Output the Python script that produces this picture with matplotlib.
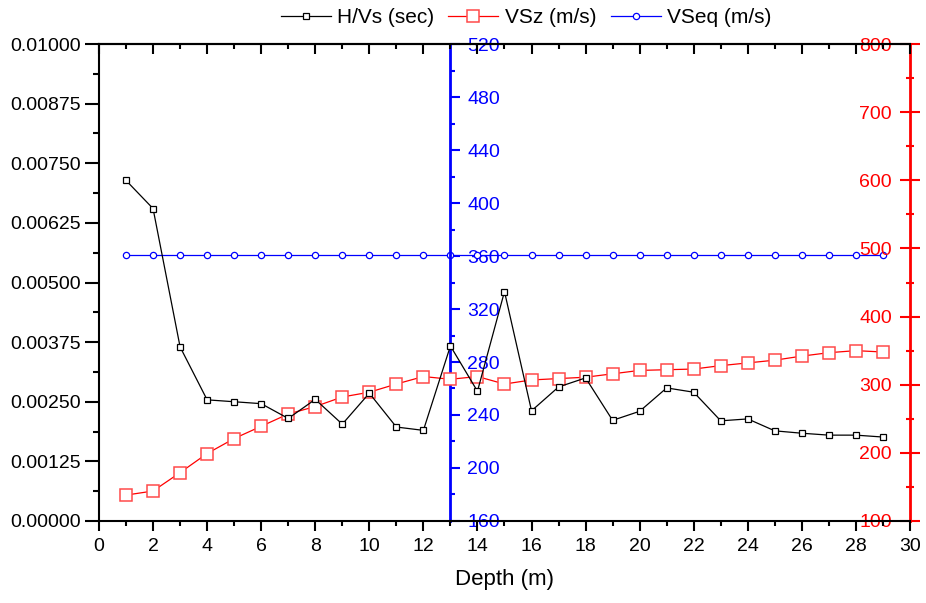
import matplotlib
matplotlib.use('Agg')
import matplotlib.pyplot as plt
from matplotlib.ticker import MultipleLocator, FormatStrFormatter

plt.rcParams['font.family'] = ['Liberation Sans', 'DejaVu Sans']

depth = list(range(1, 30))
hvs = [0.00714, 0.00655, 0.00365, 0.00254, 0.00250, 0.00246, 0.00215, 0.00255,
       0.00203, 0.00268, 0.00197, 0.00190, 0.00367, 0.00272, 0.00481, 0.00231,
       0.00281, 0.00300, 0.00211, 0.00230, 0.00279, 0.00270, 0.00210, 0.00214,
       0.00189, 0.00184, 0.00180, 0.00180, 0.00176]
vsz = [138, 144, 171, 199, 221, 239, 257, 268, 282, 289, 301, 312, 308, 312,
       301, 307, 309, 311, 316, 321, 322, 323, 328, 332, 336, 342, 347, 350, 348]
vseq = [361] * 29

fig = plt.figure(figsize=(9.26, 6.03), dpi=100)
ax = fig.add_axes([0.1069, 0.136, 0.8758, 0.791])
ax_b = ax.twinx()
ax_r = ax.twinx()

# main axis on top so the black series sits over the red one
ax.set_zorder(3)
ax.patch.set_visible(False)

l1, = ax.plot(depth, hvs, color='black', lw=0.9, marker='s', ms=4.5,
              mfc='white', mec='black', mew=0.9, label='H/Vs (sec)')
l2, = ax_r.plot(depth, vsz, color='red', lw=0.9, marker='s', ms=8,
                mfc='white', mec='#ff4a4a', mew=1.1, label='VSz (m/s)')
l3, = ax_b.plot(depth, vseq, color='blue', lw=0.9, marker='o', ms=4.5,
                mfc='white', mec='blue', mew=0.9, label='VSeq (m/s)')

# left / x axes
ax.set_xlim(0, 30)
ax.set_ylim(0, 0.01)
ax.xaxis.set_major_locator(MultipleLocator(2))
ax.xaxis.set_minor_locator(MultipleLocator(1))
ax.yaxis.set_major_locator(MultipleLocator(0.00125))
ax.yaxis.set_minor_locator(MultipleLocator(0.000625))
ax.yaxis.set_major_formatter(FormatStrFormatter('%.5f'))
ax.spines['right'].set_visible(False)
for s in ['left', 'bottom', 'top']:
    ax.spines[s].set_linewidth(1.5)
ax.tick_params(axis='both', which='both', labelsize=14, width=1.5, direction='out')
ax.tick_params(axis='y', which='major', length=10, pad=3)
ax.tick_params(axis='y', which='minor', length=4)
ax.tick_params(axis='x', which='major', length=7, pad=5)
ax.tick_params(axis='x', which='minor', length=3.5)
ax.set_xlabel('Depth (m)', fontsize=16, labelpad=10)

# ticks on top point inward
top = ax.secondary_xaxis('top')
top.xaxis.set_major_locator(MultipleLocator(2))
top.xaxis.set_minor_locator(MultipleLocator(1))
top.tick_params(which='both', direction='in', width=1.5, labeltop=False)
top.tick_params(which='major', length=7)
top.tick_params(which='minor', length=3.5)
top.spines['top'].set_linewidth(1.5)

# blue axis at depth = 13
ax_b.set_ylim(160, 520)
ax_b.yaxis.set_major_locator(MultipleLocator(40))
ax_b.yaxis.set_minor_locator(MultipleLocator(20))
for s in ['left', 'top', 'bottom']:
    ax_b.spines[s].set_visible(False)
ax_b.spines['right'].set_position(('data', 13))
ax_b.spines['right'].set_color('blue')
ax_b.spines['right'].set_linewidth(2)
ax_b.tick_params(axis='y', which='major', direction='out', length=7, width=1.5,
                 pad=5, colors='blue', labelcolor='blue', labelsize=14)
ax_b.tick_params(axis='y', which='minor', direction='out', length=3.5,
                 width=1.5, colors='blue')

# red axis at right edge, labels inside
ax_r.set_ylim(100, 800)
ax_r.yaxis.set_major_locator(MultipleLocator(100))
ax_r.yaxis.set_minor_locator(MultipleLocator(50))
for s in ['right', 'top', 'bottom']:
    ax_r.spines[s].set_visible(False)
ax_r.spines['left'].set_visible(True)
ax_r.spines['left'].set_position(('axes', 1.0))
ax_r.spines['left'].set_color('red')
ax_r.spines['left'].set_linewidth(2)
ax_r.yaxis.set_ticks_position('left')
ax_r.tick_params(axis='y', which='major', direction='inout', length=14,
                 width=1.5, pad=6, colors='red', labelcolor='red', labelsize=14)
ax_r.tick_params(axis='y', which='minor', direction='inout', length=6,
                 width=1.5, colors='red')

fig.legend([l1, l2, l3], ['H/Vs (sec)', 'VSz (m/s)', 'VSeq (m/s)'],
           loc='center', bbox_to_anchor=(0.568, 0.971), ncol=3, frameon=False,
           fontsize=15, handlelength=2.4, handletextpad=0.3, columnspacing=0.7)

fig.savefig('out.png', dpi=100)
